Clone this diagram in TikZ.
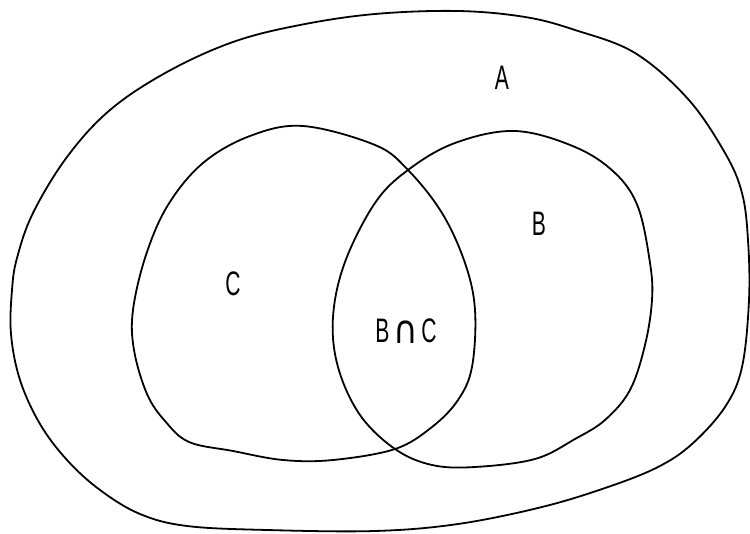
\documentclass[tikz,border=0pt]{standalone}
\usepackage{fontspec}
\usepackage{graphicx}
\setmainfont{Liberation Sans}
\newfontfamily\symfont{DejaVu Sans}
\begin{document}
\begin{tikzpicture}[x=1pt,y=-1pt,
  setline/.style={line width=1.8pt, black, line join=round},
  setlabel/.style={font=\fontsize{34}{34}\selectfont, xscale=0.62, inner sep=0pt, anchor=center}]
\useasboundingbox (0,0) rectangle (750,534);
% outer set A
\draw[setline] plot[smooth cycle, tension=0.6] coordinates {
(375,14) (458,11) (525,17) (575,30) (635,53) (688,99) (725,153) (742,193) (748,240) (749,300) (742,367) (725,407) (692,444) (658,467) (608,487) (542,507) (458,524) (375,531) (267,530) (187,526) (140,514) (100,490) (67,460) (40,424) (20,380) (11,334) (12,290) (17,258) (33,213) (67,157) (110,110) (167,72) (233,42) (300,25)};
% set C
\draw[setline] plot[smooth cycle, tension=0.6] coordinates {
(303,126) (375,145) (408,170) (442,213) (465,263) (475,310) (472,367) (458,400) (432,427) (395,449) (333,460) (283,460) (233,451) (189,442) (165,421) (147,394) (134,350) (133,310) (146,255) (168,205) (203,163) (250,136)};
% set B
\draw[setline] plot[smooth cycle, tension=0.6] coordinates {
(515,131) (575,147) (615,173) (638,207) (650,263) (652,300) (645,345) (630,390) (605,420) (575,439) (535,459) (475,467) (432,465) (395,449) (360,415) (338,367) (333,317) (345,262) (375,203) (408,170) (455,143)};
\node[setlabel] (lA) at (502,78) {A};
\node[setlabel] (lB) at (539,224) {B};
\node[setlabel] (lC) at (233,284) {C};
\node[setlabel] (lBC) at (406,331) {B\hspace{6pt}\raisebox{-1pt}{\scalebox{1.6}[1.15]{\symfont ∩}}\hspace{6pt}C};
\end{tikzpicture}
\end{document}
